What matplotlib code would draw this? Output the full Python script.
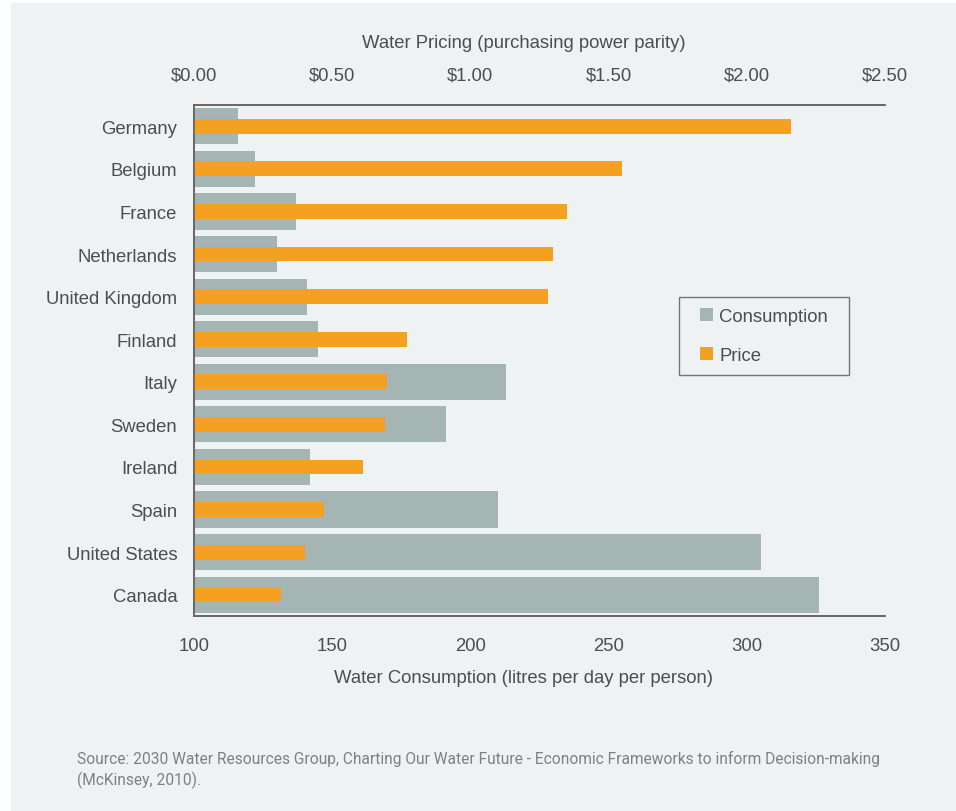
import matplotlib
matplotlib.use("Agg")
import matplotlib.pyplot as plt
from matplotlib.patches import Patch, Rectangle
from matplotlib.legend_handler import HandlerPatch
import numpy as np

# data
countries = ["Germany", "Belgium", "France", "Netherlands", "United Kingdom", "Finland",
             "Italy", "Sweden", "Ireland", "Spain", "United States", "Canada"]
consumption = [116, 122, 137, 130, 141, 145, 213, 191, 142, 210, 305, 326]
price = [2.16, 1.55, 1.35, 1.30, 1.28, 0.77, 0.70, 0.69, 0.61, 0.47, 0.40, 0.315]
cons_ticks = [100, 150, 200, 250, 300, 350]
price_ticks = [0.0, 0.5, 1.0, 1.5, 2.0, 2.5]

BG = "#eef2f3"
GREY = "#a5b5b4"
ORANGE = "#f4a020"
TXT = "#4d4d4d"
FS = 13.3

plt.rcParams["font.family"] = ["Liberation Sans", "DejaVu Sans"]

W, H = 956, 812
fig = plt.figure(figsize=(W / 100, H / 100), dpi=100, facecolor="white")
fig.patches.append(Rectangle((11 / W, 0), 1, 1 - 4 / H, transform=fig.transFigure,
                             facecolor=BG, edgecolor="none", zorder=-10))

ax = fig.add_axes([194 / W, 1 - 617 / H, (885 - 194) / W, (617 - 106) / H])
ax.patch.set_visible(False)
y = np.arange(len(countries))

ax.barh(y, np.array(consumption) - 100, left=100, height=0.85, color=GREY, zorder=1)
ax.set_xlim(100, 350)
ax.set_ylim(len(countries) - 0.5, -0.5)
ax.set_yticks(y)
ax.set_yticklabels(countries)
ax.set_xticks(cons_ticks)
ax.tick_params(axis="both", length=0, labelsize=FS, labelcolor=TXT)
ax.tick_params(axis="x", pad=15)
ax.tick_params(axis="y", pad=12)

ax2 = ax.twiny()
ax2.patch.set_visible(False)
ax2.barh(y, price, height=0.35, color=ORANGE, zorder=2)
ax2.set_xlim(0, 2.5)
ax2.set_xticks(price_ticks)
ax2.set_xticklabels(["${:.2f}".format(v) for v in price_ticks])
ax2.tick_params(axis="x", length=0, labelsize=FS, labelcolor=TXT, pad=15.5)

for a in (ax, ax2):
    for s in ["left", "top", "bottom"]:
        a.spines[s].set_color("#666666")
        a.spines[s].set_linewidth(1.2)
    a.spines["right"].set_visible(False)

fig.text(524 / W, 1 - 43 / H, "Water Pricing (purchasing power parity)",
         ha="center", va="center", fontsize=FS, color=TXT)
fig.text(524 / W, 1 - 679 / H, "Water Consumption (litres per day per person)",
         ha="center", va="center", fontsize=FS, color=TXT)


# square swatch pushed to the right end of a wider handle box (extra left padding)
def square_right(legend, orig_handle, xdescent, ydescent, width, height, fontsize):
    return Rectangle((-xdescent + width - height, -ydescent), height, height)


handles = [Patch(facecolor=GREY, edgecolor="none"), Patch(facecolor=ORANGE, edgecolor="none")]
leg = fig.legend(handles, ["Consumption  ", "Price"], loc="upper left",
                 bbox_to_anchor=(679 / W, 1 - 298 / H), fontsize=FS,
                 frameon=True, fancybox=False, handlelength=1.24, handleheight=0.73,
                 handletextpad=0.34, labelspacing=1.17, borderpad=0.6, borderaxespad=0,
                 handler_map={Patch: HandlerPatch(patch_func=square_right)})
leg.get_frame().set_edgecolor("#555555")
leg.get_frame().set_facecolor(BG)
leg.get_frame().set_linewidth(1.0)
for t in leg.get_texts():
    t.set_color(TXT)

src = ("Source: 2030 Water Resources Group, Charting Our Water Future - Economic Frameworks "
       "to inform Decision-making\n(McKinsey, 2010).")
fig.text(77 / W, 1 - 751 / H, src, ha="left", va="top", fontsize=11.2, color="#808080",
         family=["Roboto", "DejaVu Sans"], linespacing=1.35)

fig.savefig("out.png", dpi=100, facecolor="white")
